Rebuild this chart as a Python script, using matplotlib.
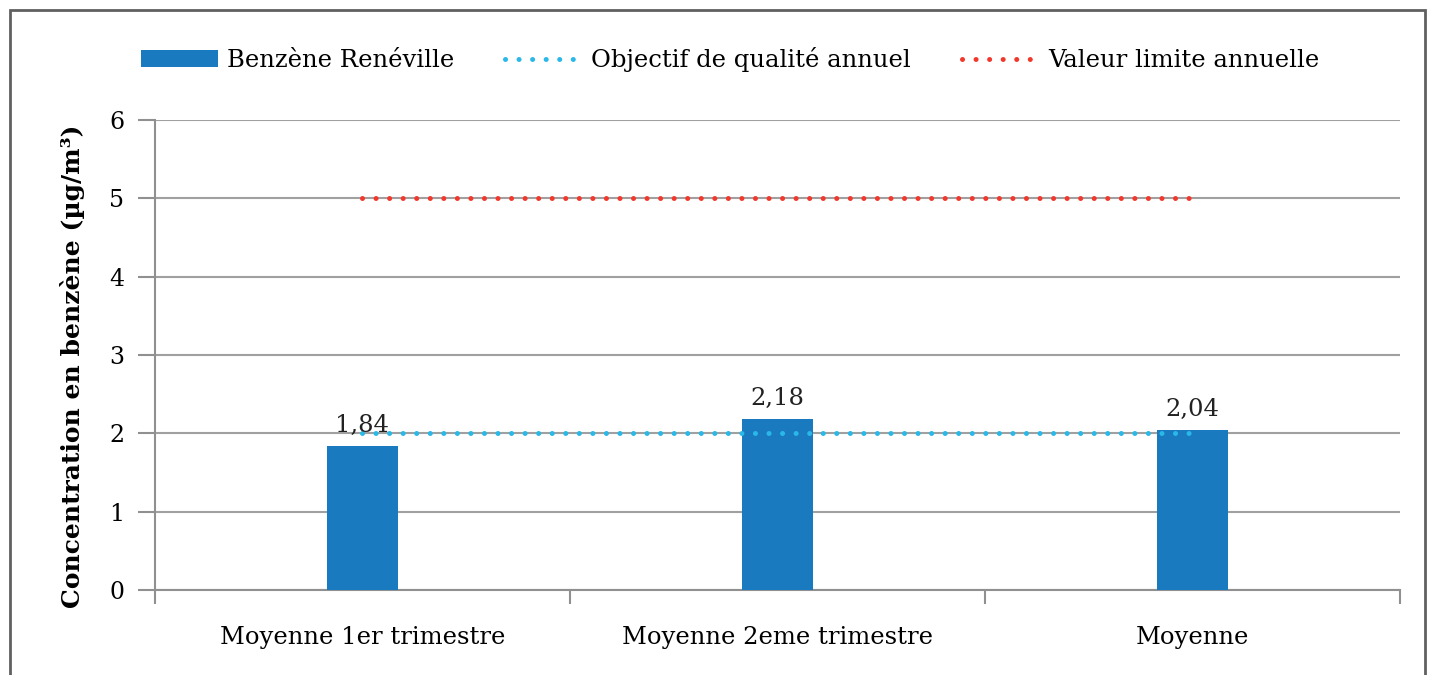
import matplotlib.pyplot as plt
from matplotlib.patches import Rectangle

plt.rcParams['font.family'] = ['DejaVu Serif']

categories = ["Moyenne 1er trimestre", "Moyenne 2eme trimestre", "Moyenne"]
benzene = [1.84, 2.18, 2.04]
labels = ["1,84", "2,18", "2,04"]
objectif = [2, 2, 2]
limite = [5, 5, 5]

fig = plt.figure(figsize=(14.31, 6.75), dpi=100)
ax = fig.add_axes([0.1083, 0.1259, 0.87, 0.6963])

# frame around the chart
fig.patches.append(Rectangle((10/1431, -0.05), 1415/1431, 1.05 - 10/675, transform=fig.transFigure,
                             fill=False, edgecolor='#606060', linewidth=2))

x = list(range(len(categories)))
b = ax.bar(x, benzene, width=0.17, color='#1a7abf', label='Benzène Renéville', zorder=3)
l1, = ax.plot(x, objectif, color='#29b8e8', linewidth=3.6, linestyle=(0, (0.01, 2.7)),
              dash_capstyle='round', label='Objectif de qualité annuel', zorder=4)
l2, = ax.plot(x, limite, color='#f2382c', linewidth=3.6, linestyle=(0, (0.01, 2.7)),
              dash_capstyle='round', label='Valeur limite annuelle', zorder=4)

for xi, v, t in zip(x, benzene, labels):
    ax.text(xi, v + 0.12, t, ha='center', va='bottom', fontsize=17.5, color='#222222', zorder=5)

ax.set_xlim(-0.5, 2.5)
ax.set_ylim(0, 6)
ax.set_yticks(range(7))
ax.set_xticks(x)
ax.set_xticklabels(categories, fontsize=17.5)
ax.set_xticks([-0.5, 0.5, 1.5, 2.5], minor=True)
ax.tick_params(axis='x', which='major', length=0, pad=26)
ax.tick_params(axis='x', which='minor', length=10, color='#909090', width=1.5)
ax.tick_params(axis='y', length=12, color='#909090', width=1.5, labelsize=17, pad=10)
ax.grid(axis='y', color='#a0a0a0', linewidth=1.5, zorder=0)
for s in ['top', 'right']:
    ax.spines[s].set_visible(False)
for s in ['left', 'bottom']:
    ax.spines[s].set_color('#909090')
    ax.spines[s].set_linewidth(1.5)

ax.set_ylabel('Concentration en benzène (µg/m³)', fontsize=18, fontweight='bold')
ax.yaxis.set_label_coords(-0.056, 0.475)

leg = ax.legend(handles=[b, l1, l2], loc='center', bbox_to_anchor=(0.462, 1.128), ncol=3, frameon=False,
                fontsize=17.5, handlelength=3.2, handleheight=0.7, columnspacing=2.1, handletextpad=0.35)

fig.savefig('out.png', dpi=100)
